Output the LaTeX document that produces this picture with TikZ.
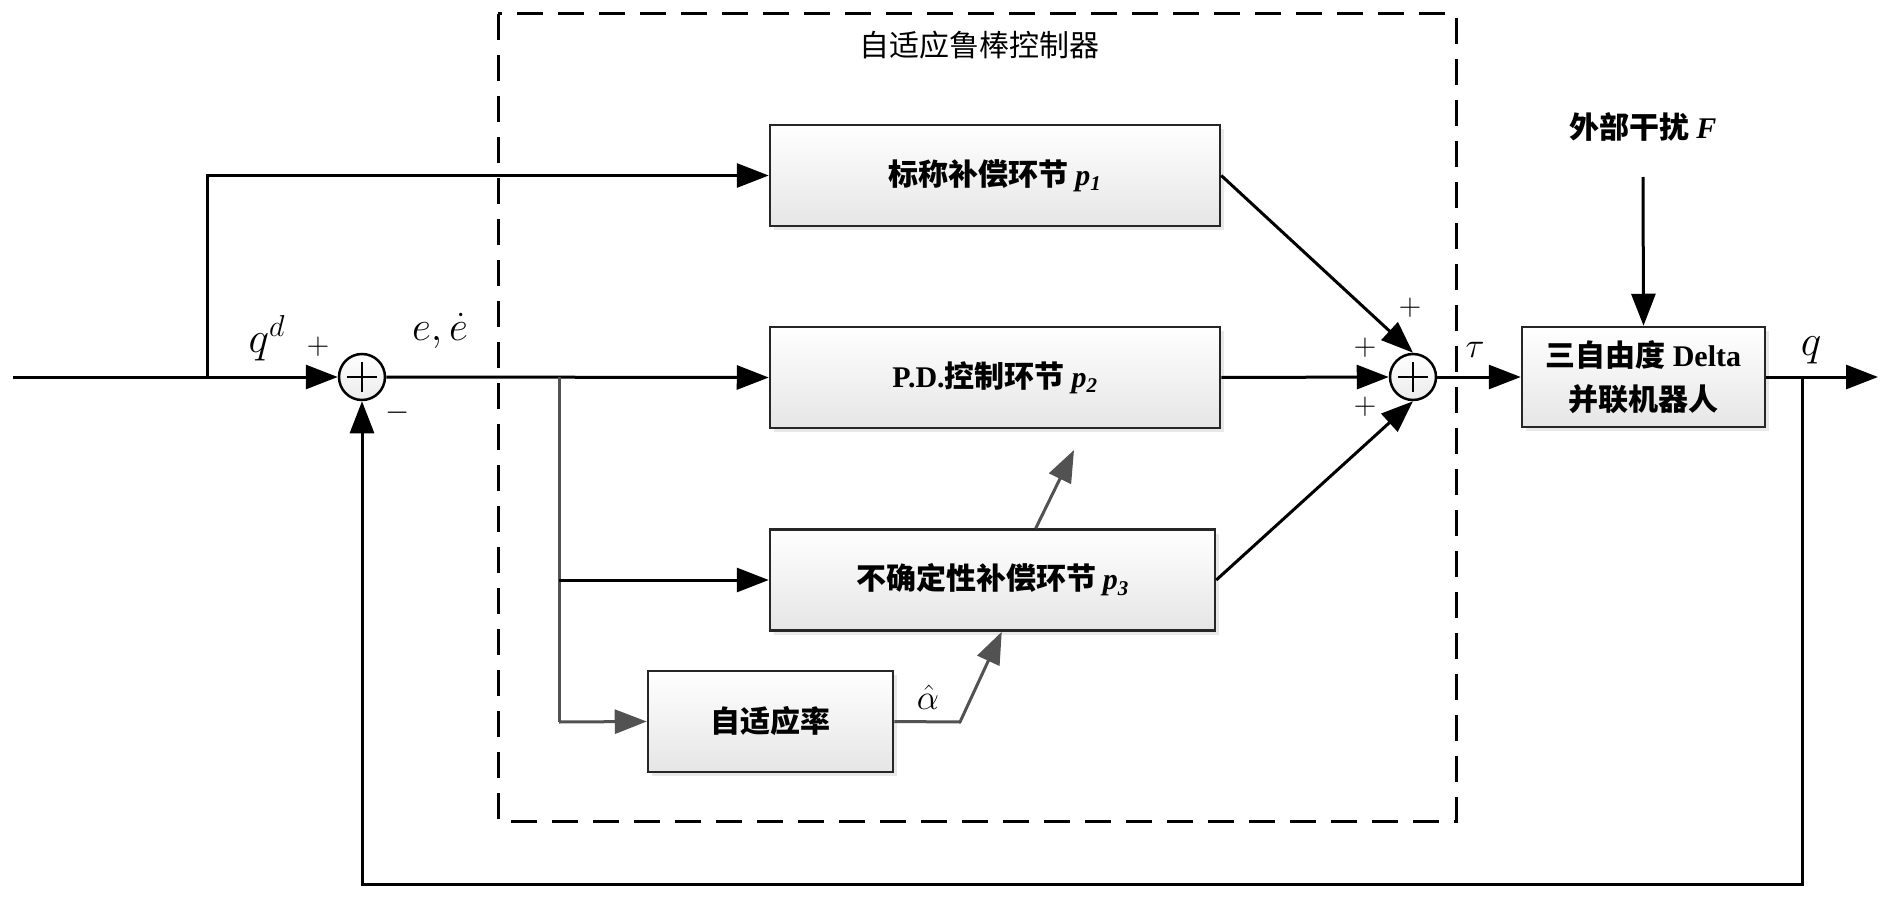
\documentclass[tikz,border=0pt]{standalone}
\usepackage{fontspec}
\setmainfont{Liberation Serif}
\newfontfamily\cjk{Noto Sans CJK SC}
\usetikzlibrary{arrows.meta,shadows}
\newcommand{\lblmath}[2]{\scalebox{#1}{\fontsize{20}{20}\selectfont$#2$}}
\begin{document}
\begin{tikzpicture}[x=1pt,y=-1pt,
  blk/.style={draw=black!85, line width=2.5pt, top color=white, bottom color=black!10,
    drop shadow={opacity=0.18,shadow xshift=4pt,shadow yshift=-4pt},
    minimum height=101pt, inner sep=0pt,
    font=\fontsize{30}{44}\selectfont\cjk\bfseries, align=center},
  sumc/.style={circle, draw, line width=2.5pt, minimum size=46pt, inner sep=0pt, top color=white, bottom color=black!8},
  tip/.style={-{Triangle[length=32pt,width=24pt]}},
  arr/.style={line width=3pt, tip},
  garr/.style={line width=3pt, tip, draw=black!68, color=black!68},
  ln/.style={line width=3pt},
  gln/.style={line width=3pt, draw=black!68},
  pm/.style={inner sep=0pt},
  mth/.style={inner sep=0pt}
]
\useasboundingbox (0,0) rectangle (1891,899);

% dashed controller frame
\draw[line width=3pt, dash pattern=on 26pt off 15pt] (498,14) rectangle (1456,821);
\node[font=\fontsize{30}{36}\selectfont\cjk] (title) at (979,45) {自适应鲁棒控制器};

% blocks
\node[blk, minimum width=450pt] (p1) at (995,175.5) {标称补偿环节\ {\fontspec{Liberation Serif}\bfseries\itshape p\textsubscript{1}}};
\node[blk, minimum width=450pt] (p2) at (995,377.5) {{\fontspec{Liberation Serif}\bfseries P.D.}控制环节\ {\fontspec{Liberation Serif}\bfseries\itshape p\textsubscript{2}}};
\node[blk, minimum width=445pt] (p3) at (992.5,580) {不确定性补偿环节\ {\fontspec{Liberation Serif}\bfseries\itshape p\textsubscript{3}}};
\node[blk, minimum width=245pt] (adapt) at (770.5,721.5) {自适应率};
\node[blk, minimum width=243pt, minimum height=100pt] (robot) at (1643.5,377) {三自由度 {\fontspec{Liberation Serif}\bfseries Delta}\\并联机器人};

% summing junctions
\node[sumc] (s1) at (362,377) {};
\node[sumc] (s2) at (1413,377) {};
\draw[line width=2.5pt] ([xshift=-15pt]s1.center) -- ([xshift=15pt]s1.center);
\draw[line width=2.5pt] ([yshift=-15pt]s1.center) -- ([yshift=15pt]s1.center);
\draw[line width=2.5pt] ([xshift=-15pt]s2.center) -- ([xshift=15pt]s2.center);
\draw[line width=2.5pt] ([yshift=-15pt]s2.center) -- ([yshift=15pt]s2.center);

% coordinates
\coordinate (in) at (13,377);
\coordinate (b0) at (207,377);
\coordinate (br) at (559,377);
\coordinate (bm) at (559,580);
\coordinate (bb) at (559,722);
\coordinate (ac) at (960,722);
\coordinate (fo) at (1802,377);
\coordinate (fb) at (1802,884);
\coordinate (out) at (1878,377);
\coordinate (dist) at (1643,177);
\coordinate (g2) at (1074,450);

% connectors
\draw[arr] (in) -- (s1.west);
\draw[arr] (b0) |- (p1.west);
\draw[arr] (s1.east) -- (p2.west);
\draw[gln] (br) -- (bb);
\draw[arr] (bm) -- (p3.west);
\draw[garr] (bb) -- (adapt.west);
\draw[garr] (adapt.east) -- (ac) -- ([xshift=233pt]p3.south west);
\draw[garr] ([xshift=267pt]p3.north west) -- (g2);
\draw[arr] (p1.east) -- (s2.north);
\draw[arr] (p2.east) -- (s2.west);
\draw[arr] (p3.east) -- (s2.south);
\draw[arr] (s2.east) -- (robot.west);
\draw[arr] (dist) -- (robot.north);
\draw[arr] (robot.east) -- (out);
\draw[arr] (fo) -- (fb) -| (s1.south);

% labels
\node[font=\fontsize{30}{36}\selectfont\cjk\bfseries] (dl) at (1643,127) {外部干扰 {\fontspec{Liberation Serif}\bfseries\itshape F}};
\node[mth] (lqd) at (267,338) {\lblmath{2.1}{q^d}};
\node[pm] (lp1) at (318,347) {\lblmath{1.5}{+}};
\node[pm] (lm1) at (398,413) {\lblmath{1.5}{-}};
\node[mth] (le) at (440,331) {\lblmath{2.0}{e,\dot e}};
\node[pm] (lp2) at (1410,308) {\lblmath{1.5}{+}};
\node[pm] (lp3) at (1365,348) {\lblmath{1.5}{+}};
\node[pm] (lp4) at (1365,407) {\lblmath{1.5}{+}};
\node[mth] (ltau) at (1475,350) {\lblmath{1.7}{\tau}};
\node[mth] (lq) at (1811,350) {\lblmath{2.1}{q}};
\node[mth] (la) at (928,697) {\lblmath{1.7}{\hat\alpha}};
\end{tikzpicture}
\end{document}
